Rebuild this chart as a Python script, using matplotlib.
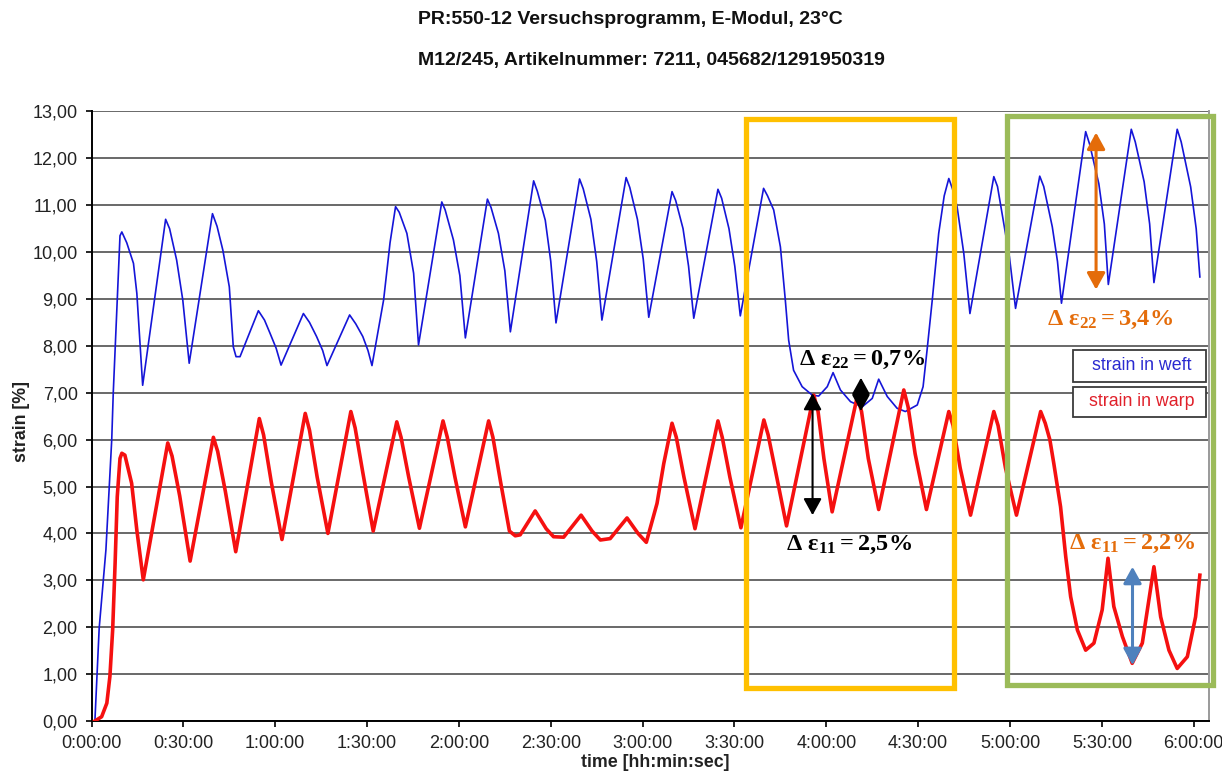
import matplotlib
matplotlib.use("Agg")
import matplotlib.pyplot as plt
from matplotlib.patches import Rectangle

plt.rcParams["font.family"] = ["Liberation Sans", "DejaVu Sans"]
plt.rcParams["mathtext.fontset"] = "custom"
plt.rcParams["mathtext.rm"] = "Liberation Serif:bold"
plt.rcParams["mathtext.it"] = "Liberation Serif:bold"
plt.rcParams["mathtext.bf"] = "Liberation Serif:bold"

# ---- measured strain curves (time in minutes, strain in %) ----
weft_time = [1.1, 2.5, 4.7, 6.6, 7.1, 8.4, 9.3, 9.9, 11.5, 13.7, 14.8, 16.7,
             24.2, 25.5, 27.8, 29.8, 31.9,
             39.5, 41.0, 42.9, 45.0, 46.3, 47.2, 48.5,
             54.5, 56.5, 58.3, 60.3, 61.9,
             69.2, 71.2, 73.5, 75.5, 76.9,
             84.3, 86.3, 88.6, 90.3, 91.6,
             95.4, 97.5, 99.3, 100.5, 103.0, 105.2, 106.8,
             114.4, 115.5, 118.2, 120.3, 122.1,
             129.3, 130.5, 132.9, 135.0, 136.8,
             144.4, 145.6, 148.2, 150.0, 151.7,
             159.4, 160.6, 163.1, 165.0, 166.7,
             174.6, 175.8, 178.3, 180.2, 182.0,
             189.6, 190.8, 193.2, 195.0, 196.7,
             204.6, 205.8, 208.2, 210.1, 211.9,
             219.5, 220.8, 222.8, 225.0, 226.6, 227.7, 229.3, 232.1, 235.4, 237.5,
             240.3, 242.2, 244.6, 247.9, 251.7, 255.0, 257.1, 259.9, 263.1, 265.8,
             269.7, 271.6, 272.9, 274.6, 276.7, 278.5, 280.0,
             281.2, 282.7, 284.9, 286.9,
             294.7, 295.9, 297.4, 299.8, 301.8,
             309.7, 311.0, 313.8, 315.5, 316.8,
             324.7, 326.0, 329.0, 330.8, 332.1,
             339.6, 340.9, 343.8, 345.6, 347.0,
             354.6, 355.9, 359.0, 360.8, 362.0]
weft_strain = [0.00, 1.98, 3.65, 6.00, 7.00, 8.98, 10.35, 10.43, 10.20, 9.76, 9.12, 7.16,
               10.70, 10.50, 9.83, 8.98, 7.63,
               10.82, 10.55, 10.04, 9.26, 7.98, 7.77, 7.77,
               8.75, 8.55, 8.27, 7.95, 7.59,
               8.69, 8.50, 8.20, 7.90, 7.58,
               8.66, 8.47, 8.20, 7.90, 7.58,
               8.98, 10.20, 10.97, 10.85, 10.40, 9.55, 8.02,
               11.07, 10.90, 10.26, 9.50, 8.17,
               11.13, 10.95, 10.40, 9.60, 8.30,
               11.52, 11.30, 10.68, 9.80, 8.49,
               11.56, 11.35, 10.70, 9.80, 8.55,
               11.59, 11.38, 10.70, 9.85, 8.61,
               11.29, 11.10, 10.50, 9.70, 8.59,
               11.34, 11.15, 10.50, 9.70, 8.64,
               11.36, 11.20, 10.90, 10.11, 8.98, 8.12, 7.48, 7.13, 6.95, 6.93,
               7.13, 7.43, 7.06, 6.81, 6.70, 6.88, 7.29, 6.92, 6.67, 6.60,
               6.74, 7.13, 7.91, 8.98, 10.40, 11.20, 11.57,
               11.35, 10.97, 9.97, 8.69,
               11.61, 11.40, 10.82, 9.90, 8.80,
               11.62, 11.40, 10.54, 9.80, 8.91,
               12.57, 12.30, 11.46, 10.60, 9.31,
               12.62, 12.35, 11.50, 10.60, 9.35,
               12.62, 12.35, 11.39, 10.50, 9.47]

warp_time = [1.1, 3.3, 5.0, 6.0, 6.9, 7.7, 8.4, 9.3, 9.9, 10.9, 13.1, 14.8, 16.9,
             24.9, 26.3, 28.8, 32.2,
             39.8, 41.2, 43.7, 47.1,
             54.8, 56.2, 58.7, 62.2,
             69.8, 71.2, 73.7, 77.2,
             84.7, 86.1, 88.6, 92.0,
             99.7, 101.1, 103.6, 107.1,
             114.8, 116.2, 118.7, 122.1,
             129.7, 131.1, 133.6, 136.5, 138.4, 140.0,
             144.9, 148.5, 150.9, 154.2,
             159.9, 163.5, 166.2, 169.4,
             174.9, 178.5, 181.2, 184.7, 186.9, 189.6,
             191.0, 193.5, 197.1,
             204.6, 206.0, 208.5, 212.1,
             219.6, 221.0, 223.5, 227.0,
             235.9, 237.3, 239.2, 241.9,
             250.1, 251.5, 253.7, 257.1,
             265.3, 266.7, 269.0, 272.7,
             280.0, 281.4, 283.7, 287.1,
             294.7, 296.1, 298.5, 302.1,
             310.0, 311.5, 313.0, 314.3, 316.5, 318.2, 319.8, 322.0, 324.7,
             327.4, 330.1, 332.0, 333.9, 336.7, 339.9,
             343.2, 347.0, 349.2, 351.9, 354.6,
             357.9, 360.6, 362.0]
warp_strain = [0.00, 0.09, 0.38, 0.95, 1.94, 3.36, 4.78, 5.60, 5.71, 5.67, 5.07, 4.07, 3.01,
               5.93, 5.65, 4.80, 3.41,
               6.05, 5.75, 4.90, 3.61,
               6.45, 6.10, 5.10, 3.87,
               6.56, 6.20, 5.20, 4.00,
               6.60, 6.25, 5.30, 4.05,
               6.38, 6.05, 5.20, 4.11,
               6.40, 6.05, 5.20, 4.14,
               6.40, 6.05, 5.10, 4.05, 3.95, 3.97,
               4.48, 4.10, 3.93, 3.92,
               4.39, 4.05, 3.86, 3.89,
               4.33, 4.00, 3.81, 4.64, 5.49, 6.35,
               6.05, 5.20, 4.10,
               6.40, 6.05, 5.20, 4.12,
               6.42, 6.10, 5.30, 4.16,
               6.95, 6.60, 5.60, 4.46,
               6.92, 6.60, 5.60, 4.51,
               7.06, 6.70, 5.70, 4.51,
               6.60, 6.30, 5.40, 4.39,
               6.60, 6.30, 5.40, 4.39,
               6.60, 6.35, 6.00, 5.49, 4.57, 3.50, 2.65, 1.94, 1.51,
               1.66, 2.37, 3.47, 2.44, 1.80, 1.23,
               1.66, 3.29, 2.22, 1.51, 1.12,
               1.37, 2.22, 3.11]

x_ticks = [0, 30, 60, 90, 120, 150, 180, 210, 240, 270, 300, 330, 360]
x_tick_labels = ["0:00:00", "0:30:00", "1:00:00", "1:30:00", "2:00:00", "2:30:00",
                 "3:00:00", "3:30:00", "4:00:00", "4:30:00", "5:00:00", "5:30:00",
                 "6:00:00"]
y_ticks = list(range(0, 14))
y_tick_labels = ["0,00", "1,00", "2,00", "3,00", "4,00", "5,00", "6,00", "7,00",
                 "8,00", "9,00", "10,00", "11,00", "12,00", "13,00"]

series_names = ["strain in weft", "strain in warp"]

# marked strain ranges: (time, low, high)
d22_low = (251.3, 6.61, 7.32)
d11_low = (235.5, 4.39, 6.99)
d22_high = (328.1, 9.20, 12.55)
d11_high = (340.0, 1.19, 3.29)

fig = plt.figure(figsize=(12.22, 7.74), dpi=100)
ax = fig.add_axes([0.0749, 0.0685, 0.9145, 0.7875])

ax.plot(weft_time, weft_strain, color="#1515d8", lw=1.2, zorder=3, solid_joinstyle="round")
ax.plot(warp_time, warp_strain, color="#f51010", lw=2.6, zorder=3, solid_joinstyle="round")

ax.set_xlim(0, 365)
ax.set_ylim(0, 13)
ax.set_xticks(x_ticks)
ax.set_xticklabels(x_tick_labels)
ax.set_yticks(y_ticks)
ax.set_yticklabels(y_tick_labels)
ax.tick_params(axis="both", direction="out", length=4, width=1.2, color="black",
               labelsize=13, labelcolor="#222222")
ax.tick_params(axis="y", pad=6)
ax.tick_params(axis="x", pad=6)

ax.grid(axis="y", color="#686868", lw=1.4, zorder=1)
ax.set_axisbelow(True)
for side in ("left", "bottom"):
    ax.spines[side].set_color("black")
    ax.spines[side].set_linewidth(1.4)
ax.spines["top"].set_visible(False)
ax.spines["right"].set_color("#9a9a9a")
ax.spines["right"].set_linewidth(1.4)

ax.set_xlabel("time [hh:min:sec]", fontsize=12.8, fontweight="bold", color="#222222")
ax.set_ylabel("strain [%]", fontsize=12.8, fontweight="bold", color="#222222")
ax.xaxis.set_label_coords(0.5043, -0.0689)
ax.yaxis.set_label_coords(-0.0631, 0.4906)
ax.xaxis.label.set_verticalalignment("center")
ax.yaxis.label.set_verticalalignment("center")

fig.text(418 / 1222, 1 - 20 / 774, "PR:550-12 Versuchsprogramm, E-Modul, 23°C",
         fontsize=14, fontweight="bold", ha="left", va="center", color="#111111")
fig.text(418 / 1222, 1 - 60 / 774, "M12/245, Artikelnummer: 7211, 045682/1291950319",
         fontsize=14, fontweight="bold", ha="left", va="center", color="#111111")

# legend boxes
legend_boxes = [(0.5567, 0.0520, "#2a2ad0"), (0.4993, 0.0492, "#e0202a")]
for name, (y0, h, col) in zip(series_names, legend_boxes):
    ax.add_patch(Rectangle((0.8783, y0), 0.1188, h, transform=ax.transAxes,
                           facecolor="white", edgecolor="#3a3a3a", lw=1.3,
                           clip_on=False, zorder=6))
    ax.text(0.9395, y0 + h / 2, name, transform=ax.transAxes, fontsize=12.8,
            color=col, ha="center", va="center", zorder=7)

# highlighted regions
ax.add_patch(Rectangle((213.6, 0.70), 281.6 - 213.6, 12.84 - 0.70, fill=False,
                       edgecolor="#ffc000", lw=3.8, clip_on=False, zorder=5))
ax.add_patch(Rectangle((299.0, 0.77), 366.3 - 299.0, 12.90 - 0.77, fill=False,
                       edgecolor="#9bbb59", lw=3.8, clip_on=False, zorder=5))


def range_arrow(spec, color, lw):
    t, lo, hi = spec
    ax.annotate("", xy=(t, hi), xytext=(t, lo),
                arrowprops=dict(arrowstyle="<|-|>,head_length=1.0,head_width=0.55",
                                mutation_scale=10, color=color, lw=lw,
                                shrinkA=0, shrinkB=0),
                zorder=8, annotation_clip=False)


range_arrow(d11_low, "black", 1.5)
range_arrow(d22_low, "black", 1.5)
range_arrow(d22_high, "#e46c0a", 2.2)
range_arrow(d11_high, "#4f81bd", 2.2)

ann_size = 17.5
ax.text(231.0, 7.59, r"$Δ\ ε_{22} = 0{,}7\%$", fontsize=ann_size, color="black",
        ha="left", va="baseline", zorder=9)
ax.text(226.9, 3.65, r"$Δ\ ε_{11} = 2{,}5\%$", fontsize=ann_size, color="black",
        ha="left", va="baseline", zorder=9)
ax.text(312.2, 8.44, r"$Δ\ ε_{22} = 3{,}4\%$", fontsize=ann_size, color="#e46c0a",
        ha="left", va="baseline", zorder=9)
ax.text(319.4, 3.67, r"$Δ\ ε_{11} = 2{,}2\%$", fontsize=ann_size, color="#e46c0a",
        ha="left", va="baseline", zorder=9)

fig.savefig("out.png", dpi=100)
